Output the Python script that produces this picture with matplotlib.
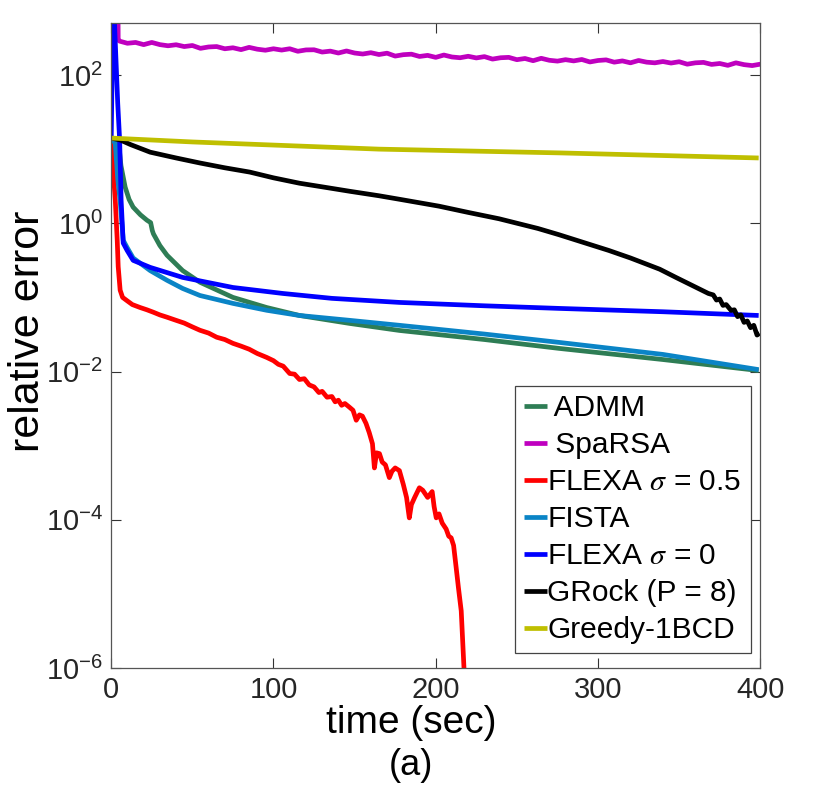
import matplotlib
matplotlib.use("Agg")
import matplotlib.pyplot as plt
from matplotlib.ticker import NullLocator, FixedLocator

plt.rcParams['font.family'] = ['Liberation Sans', 'DejaVu Sans']
plt.rcParams['mathtext.fontset'] = 'stix'

# ---------------- data ----------------
admm_t = [0, 4.5, 6, 8.6, 11, 13.5, 18, 22, 24.3, 25.3, 26, 30, 34.4, 44, 54.7, 75, 95.8, 116, 147, 177.6, 230, 276, 340, 399]
admm_v = [14, 12.5, 6.0, 3.07, 2.1, 1.65, 1.3, 1.1, 1.02, 0.8, 0.72, 0.5, 0.37, 0.23, 0.16, 0.1, 0.073, 0.057, 0.0445, 0.0358, 0.027, 0.0205, 0.0145, 0.0103]

sparsa_t = [4, 4.3] + list(range(5, 401, 5))
sparsa_v = [3000, 300,
            287, 268, 275, 257, 275, 257, 248, 256, 242, 250, 229, 239, 242, 226, 233, 220,
            236, 223, 216, 226, 217, 226, 209, 218, 219, 204, 210, 198, 211, 198, 192, 200,
            189, 197, 180, 188, 191, 178, 184, 173, 186, 175, 171, 179, 170, 177, 164, 171,
            173, 161, 167, 156, 168, 158, 154, 161, 155, 162, 150, 157, 160, 149, 155, 146,
            157, 149, 146, 152, 145, 151, 140, 146, 148, 139, 143, 135, 146, 138, 134, 140]

flexa05_t = [0, 1.2, 2.5, 3.7, 4.3, 5.5, 7, 9.8, 13, 17.8, 22, 26, 30, 34.4, 40, 45, 50, 54.7,
             60, 65, 70, 75, 80, 85, 90, 95.8, 100, 103, 106, 110, 113, 116, 119, 122, 125,
             128, 130, 133, 136, 138, 140, 142, 144, 146.8, 149, 151, 153, 154.8, 157, 159,
             161, 162.2, 163.5, 165.3, 167, 169, 171.4, 173, 175, 177.6, 180, 182, 183.7,
             185, 187, 189.9, 192, 195, 197.8, 199, 200.3, 202, 204, 206.4, 208, 209.5,
             211, 212.6, 214, 215.7, 217.5, 218.5]
flexa05_v = [14.1, 5.2, 2.05, 0.59, 0.26, 0.125, 0.1, 0.09, 0.08, 0.073, 0.068, 0.063, 0.058,
             0.054, 0.049, 0.045, 0.040, 0.036, 0.033, 0.029, 0.027, 0.024, 0.022, 0.020,
             0.0175, 0.0155, 0.014, 0.0125, 0.0118, 0.0094, 0.0092, 0.0078, 0.0080, 0.0066,
             0.0062, 0.0052, 0.0054, 0.0045, 0.0046, 0.0039, 0.0041, 0.0035, 0.0037, 0.0033,
             0.0030, 0.0022, 0.0026, 0.0025, 0.0020, 0.0015, 0.00106, 0.0005, 0.0008, 0.00078,
             0.0006, 0.00055, 0.00037, 0.00045, 0.0005, 0.00046, 0.0003, 0.0002, 0.000106,
             0.00016, 0.0002, 0.00027, 0.00025, 0.0002, 0.00024, 0.00015, 0.000106, 0.00012,
             0.00009, 0.000075, 0.00006, 0.000057, 0.000045, 0.0000224, 0.000012, 0.0000059,
             0.0000009, 0.0000003]

fista_t = [0, 2.5, 4, 5.5, 7.4, 9.8, 13.5, 24, 34.4, 44, 54.7, 75, 95.8, 116, 147, 177.6, 230, 276, 340, 399]
fista_v = [14, 12, 4.0, 2.0, 0.59, 0.47, 0.34, 0.23, 0.17, 0.132, 0.106, 0.083, 0.067, 0.057, 0.049, 0.042, 0.032, 0.0247, 0.017, 0.0106]

flexa0_t = [0, 1.0, 1.5, 2.2, 4.0, 5.2, 6.1, 7.4, 9.8, 13.5, 24, 44, 75, 105.7, 136, 177.6, 230, 276, 340, 399]
flexa0_v = [14, 600, 1200, 400, 42, 13.2, 2.05, 0.54, 0.43, 0.316, 0.254, 0.186, 0.136, 0.113, 0.097, 0.0855, 0.077, 0.071, 0.064, 0.057]

grock_t = [0, 5.5, 12, 24, 40, 54.7, 70, 85.4, 100, 116, 130, 147, 165, 178, 202, 220, 239,
           263, 276, 290, 306.6, 320, 327, 338, 348, 358, 368, 371, 373, 375, 377, 379, 382, 384,
           386, 388, 390, 392, 394, 396, 398, 399.5]
grock_v = [14.1, 13.3, 11.5, 9.1, 7.6, 6.5, 5.6, 4.9, 4.1, 3.47, 3.1, 2.7, 2.35, 2.1, 1.7,
           1.4, 1.15, 0.85, 0.7, 0.56, 0.43, 0.34, 0.297, 0.24, 0.186, 0.145, 0.113, 0.108, 0.092,
           0.095, 0.078, 0.080, 0.0667, 0.068, 0.055, 0.058, 0.046, 0.048, 0.039, 0.042, 0.031, 0.0327]

greedy_t = [0, 50, 116, 165, 276, 399]
greedy_v = [14.1, 12.5, 11.0, 10.0, 8.9, 7.6]

labels = [' ADMM', ' SpaRSA', r'FLEXA $\sigma$ = 0.5', 'FISTA', r'FLEXA $\sigma$ = 0', 'GRock (P = 8)', 'Greedy-1BCD']
colors = ['#2E7D55', '#BF00BF', '#FF0000', '#0A84C6', '#0000FF', '#000000', '#BFBF00']

x_ticks = [0, 100, 200, 300, 400]
y_ticks = [1e-6, 1e-4, 1e-2, 1e0, 1e2]

# ---------------- plot ----------------
fig = plt.figure(figsize=(8.3, 8.0), dpi=100)
ax = fig.add_axes([0.134, 0.165, 0.782, 0.806])

series = [(admm_t, admm_v), (sparsa_t, sparsa_v), (flexa05_t, flexa05_v), (fista_t, fista_v),
          (flexa0_t, flexa0_v), (grock_t, grock_v), (greedy_t, greedy_v)]
for (t, v), lab, c in zip(series, labels, colors):
    ax.plot(t, v, color=c, lw=3.4, label=lab, solid_joinstyle='round', solid_capstyle='butt')

ax.set_yscale('log')
ax.set_xlim(0, 400)
ax.set_ylim(1e-6, 5e2)
ax.xaxis.set_major_locator(FixedLocator(x_ticks))
ax.yaxis.set_major_locator(FixedLocator(y_ticks))
ax.yaxis.set_minor_locator(NullLocator())
ax.tick_params(direction='in', which='both', top=True, right=True, length=7, width=0.8,
               color='#333333', labelsize=21, labelcolor='#262626', pad=6)
for s in ax.spines.values():
    s.set_color('#555555')
    s.set_linewidth(0.9)

ax.set_xlabel('time (sec)', fontsize=28)
ax.xaxis.set_label_coords(0.462, -0.058)
ax.set_ylabel('relative error', fontsize=31)
ax.yaxis.set_label_coords(-0.097, 0.522)
fig.text(0.495, 0.043, '(a)', fontsize=26, ha='center', va='center')

leg = ax.legend(loc='lower right', bbox_to_anchor=(0.985, 0.023), borderaxespad=0,
                fontsize=21.5, handlelength=0.8, handletextpad=0.0, labelspacing=0.3,
                borderpad=0.3, fancybox=False, framealpha=1, edgecolor='#444444')
leg.get_frame().set_linewidth(0.9)

fig.savefig('out.png', dpi=100)
